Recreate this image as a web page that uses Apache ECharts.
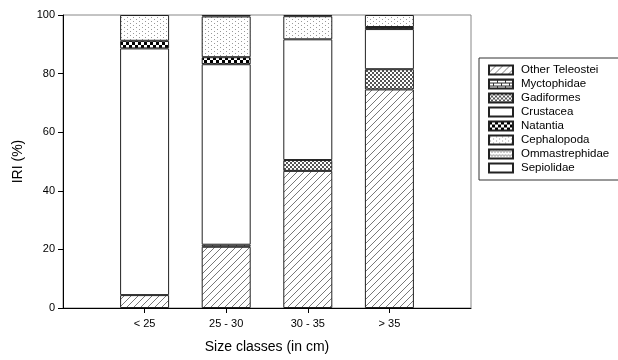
<!DOCTYPE html>
<html>
<head>
<meta charset="utf-8">
<script src="https://cdn.jsdelivr.net/npm/echarts@6/dist/echarts.min.js"></script>
<style>
  html, body { margin: 0; padding: 0; background: #fff; }
  #chart { width: 618px; height: 360px; }
</style>
</head>
<body>
<div id="chart"></div>
<script>
// size classes (empty slots at both ends keep the bars off the frame)
const categories = ['', '< 25', '25 - 30', '30 - 35', '> 35', ''];
const seriesNames = ['Other Teleostei', 'Myctophidae', 'Gadiformes', 'Crustacea',
  'Natantia', 'Cephalopoda', 'Ommastrephidae', 'Sepiolidae'];

// IRI (%) per size class
const otherTeleostei = [4.4, 20.9, 46.8, 74.6];
const myctophidae = [null, 0.7, null, null];
const gadiformes = [null, null, 3.7, 6.9];
const crustacea = [84.2, 61.6, 41.2, 13.7];
const natantia = [2.6, 2.4, null, 0.7];
const cephalopoda = [8.8, 13.9, 7.9, 4.1];
const ommastrephidae = [null, 0.5, 0.4, null];
const sepiolidae = [null, null, null, null];

const values = [otherTeleostei, myctophidae, gadiformes, crustacea,
  natantia, cephalopoda, ommastrephidae, sepiolidae];

// fill patterns drawn on small canvases
function tile(w, h, draw) {
  let c = document.createElement('canvas');
  c.width = w; c.height = h;
  let ctx = c.getContext('2d');
  ctx.fillStyle = '#fff';
  ctx.fillRect(0, 0, w, h);
  draw(ctx);
  return { image: c, repeat: 'repeat' };
}

const hatch = tile(7, 7, function(ctx) {
  ctx.strokeStyle = '#555';
  ctx.lineWidth = 0.8;
  ctx.beginPath();
  ctx.moveTo(0, 7); ctx.lineTo(7, 0);
  ctx.moveTo(-1, 1); ctx.lineTo(1, -1);
  ctx.moveTo(6, 8); ctx.lineTo(8, 6);
  ctx.stroke();
});
const brick = tile(8, 6, function(ctx) {
  ctx.fillStyle = '#333';
  ctx.fillRect(0, 0, 8, 1);
  ctx.fillRect(0, 3, 8, 1);
  ctx.fillRect(0, 0, 1, 3);
  ctx.fillRect(4, 3, 1, 3);
});
const fineCheck = tile(4, 4, function(ctx) {
  ctx.fillStyle = '#555';
  ctx.fillRect(0, 0, 2, 2);
  ctx.fillRect(2, 2, 2, 2);
});
const coarseCheck = tile(6, 6, function(ctx) {
  ctx.fillStyle = '#000';
  ctx.fillRect(0, 0, 3, 3);
  ctx.fillRect(3, 3, 3, 3);
});
const dots = tile(6, 4, function(ctx) {
  ctx.fillStyle = '#999';
  ctx.fillRect(1, 1, 1, 1);
  ctx.fillRect(4, 3, 1, 1);
});
const waves = tile(6, 4, function(ctx) {
  ctx.strokeStyle = '#777';
  ctx.lineWidth = 0.8;
  ctx.beginPath();
  ctx.moveTo(0, 3); ctx.lineTo(1.5, 1); ctx.lineTo(3, 3); ctx.lineTo(4.5, 1); ctx.lineTo(6, 3);
  ctx.stroke();
});

const fills = [hatch, brick, fineCheck, '#fff', coarseCheck, dots, waves, '#fff'];

let myChart = echarts.init(document.getElementById('chart'));
let series = [];
for (let i = 0; i < seriesNames.length; i++) {
  series.push({
    name: seriesNames[i],
    type: 'bar',
    stack: 'iri',
    barWidth: 49,
    data: [null].concat(values[i], [null]),
    itemStyle: { color: fills[i], borderColor: '#222', borderWidth: 1 },
    emphasis: { disabled: true }
  });
}

let option = {
  animation: false,
  textStyle: { fontFamily: 'Liberation Sans, Arial, sans-serif' },
  grid: {
    left: 63, right: 147, top: 15, bottom: 52,
    show: true, borderColor: '#888', borderWidth: 1
  },
  legend: {
    orient: 'vertical',
    left: 479, top: 58,
    padding: [6, 10, 6, 9],
    itemWidth: 24, itemHeight: 9, itemGap: 2,
    backgroundColor: '#fff',
    borderColor: '#333', borderWidth: 1,
    icon: 'rect',
    selectedMode: false,
    data: seriesNames,
    textStyle: { fontSize: 11.5, color: '#000', padding: [0, 0, 0, 3] }
  },
  xAxis: {
    type: 'category',
    data: categories,
    boundaryGap: false,
    name: 'Size classes (in cm)',
    nameLocation: 'middle',
    nameGap: 32,
    nameTextStyle: { fontSize: 14, color: '#000' },
    axisLine: { lineStyle: { color: '#000' } },
    axisTick: {
      inside: false, length: 5, lineStyle: { color: '#000' },
      interval: function(idx) { return idx > 0 && idx < categories.length - 1; }
    },
    axisLabel: { fontSize: 11, color: '#000', margin: 10, interval: 0 },
    splitLine: { show: false }
  },
  yAxis: {
    type: 'value',
    min: 0, max: 100, interval: 20,
    name: 'IRI (%)',
    nameLocation: 'middle',
    nameGap: 38,
    nameTextStyle: { fontSize: 14, color: '#000' },
    axisLine: { show: true, lineStyle: { color: '#000' } },
    axisTick: { show: true, length: 5, lineStyle: { color: '#000' } },
    axisLabel: { fontSize: 11, color: '#000', margin: 8 },
    splitLine: { show: false }
  },
  series: series
};
myChart.setOption(option);
</script>
</body>
</html>
